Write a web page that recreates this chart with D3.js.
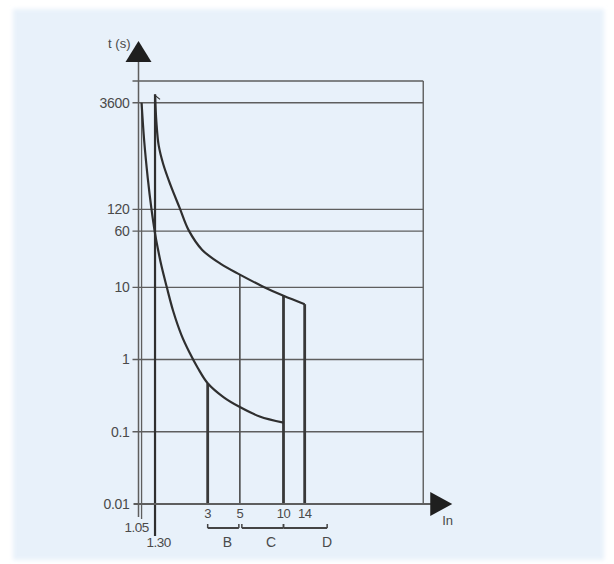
<!DOCTYPE html>
<html>
<head>
<meta charset="utf-8">
<script src="https://cdn.jsdelivr.net/npm/d3@7"></script>
<style>
  body { margin: 0; background: #fff; }
  svg { display: block; font-family: 'Liberation Sans', Arial, sans-serif; }
</style>
</head>
<body>
<div id="chart"></div>
<script>
// time ticks (s), log axis
var tTicks = [3600, 120, 60, 10, 1, 0.1, 0.01]
var tLabels = ['3600', '120', '60', '10', '1', '0.1', '0.01']

// multiples of In under the axis
var inTicks = [3, 5, 10, 14]
var inLabels = ['3', '5', '10', '14']
var inLowTicks = [1.05, 1.30]
var inLowLabels = ['1.05', '1.30']

// lower curve
var lowIn = [1.05, 1.094, 1.159, 1.227, 1.3, 1.357, 1.438, 1.568, 1.734, 1.975, 2.248, 2.559, 3, 3.873, 5, 6.85, 10]
var lowT = [3600, 1080, 324, 124, 56, 35, 20, 10, 4.7, 2.2, 1.25, 0.77, 0.47, 0.3, 0.22, 0.163, 0.134]

// upper curve
var upIn = [1.3, 1.328, 1.377, 1.48, 1.661, 1.919, 2.216, 2.751, 3.666, 5, 7.18, 10, 14]
var upT = [4700, 1970, 930, 510, 262, 127, 62, 33, 21.3, 15, 10.3, 7.65, 5.85]

// verticals dropped to the axis
var dropIn = [3, 5, 10, 14]
var dropT = [0.47, 15, 7.65, 5.85]

// tripping classes
var classNames = ['B', 'C', 'D']
var classFrom = [3, 5, 10]
var classTo = [5, 10, 20]
var classLabelAt = [4.1, 8.2, 20]

var inMax = 92    // right edge of the frame
var tMax = 7200   // top edge of the frame

var width = 614
var height = 564
var GRID = '#5e5e5e'
var INK = '#2f2f2f'
var TEXT = '#4a4a4a'

var svg = d3.select('#chart')
  .append('svg')
  .attr('width', width)
  .attr('height', height)

var x = d3.scaleLog().domain([1, 10]).range([138.5, 283.5])
var y = d3.scaleLog().domain([0.01, tMax]).range([504, 81])

var axisX = x(1)
var axisY = y(0.01)
var frameRight = x(inMax)
var frameTop = y(tMax)

drawBackground()
drawGrid()
drawCurves()
drawAxes()
drawClasses()

function drawBackground() {
  var defs = svg.append('defs')
  defs.append('filter')
    .attr('id', 'soft')
    .append('feGaussianBlur')
    .attr('stdDeviation', 2)

  svg.append('rect')
    .attr('x', 13)
    .attr('y', 9)
    .attr('width', 591)
    .attr('height', 551)
    .attr('fill', '#e8f1fa')
    .attr('filter', 'url(#soft)')
}

function drawGrid() {
  var g = svg.append('g')

  //horizontal lines, last tick is the axis itself
  g.selectAll('line.h')
    .data(tTicks.slice(0, -1).concat([tMax]))
    .enter()
    .append('line')
    .attr('class', 'h')
    .attr('x1', axisX - 6)
    .attr('x2', frameRight)
    .attr('y1', function(d) { return y(d) })
    .attr('y2', function(d) { return y(d) })
    .attr('stroke', GRID)
    .attr('stroke-width', 1.4)

  //right border
  g.append('line')
    .attr('x1', frameRight)
    .attr('x2', frameRight)
    .attr('y1', frameTop)
    .attr('y2', axisY)
    .attr('stroke', GRID)
    .attr('stroke-width', 1.4)

  g.selectAll('text.t')
    .data(tTicks)
    .enter()
    .append('text')
    .attr('class', 't')
    .attr('x', axisX - 9)
    .attr('y', function(d) { return y(d) })
    .attr('dy', '0.35em')
    .attr('text-anchor', 'end')
    .attr('font-size', 14)
    .attr('letter-spacing', -0.3)
    .attr('fill', TEXT)
    .text(function(d, i) { return tLabels[i] })
}

function drawCurves() {
  var g = svg.append('g')
  var line = d3.line()
    .x(function(d) { return x(d[0]) })
    .y(function(d) { return y(d[1]) })
    .curve(d3.curveCatmullRom.alpha(0.5))

  // 1.05 and 1.30 verticals run below the axis to their labels
  g.append('line')
    .attr('x1', x(1.05))
    .attr('x2', x(1.05))
    .attr('y1', y(lowT[0]))
    .attr('y2', axisY + 15)
    .attr('stroke', GRID)
    .attr('stroke-width', 1.3)

  g.append('line')
    .attr('x1', x(1.3))
    .attr('x2', x(1.3))
    .attr('y1', y(upT[0]))
    .attr('y2', axisY + 32)
    .attr('stroke', INK)
    .attr('stroke-width', 2.2)

  // small flag on top of the 1.30 line
  g.append('line')
    .attr('x1', x(1.3))
    .attr('x2', x(1.3) + 5)
    .attr('y1', y(upT[0]) + 1)
    .attr('y2', y(upT[0]) + 5)
    .attr('stroke', INK)
    .attr('stroke-width', 1.2)

  g.selectAll('line.drop')
    .data(dropIn)
    .enter()
    .append('line')
    .attr('class', 'drop')
    .attr('x1', function(d) { return x(d) })
    .attr('x2', function(d) { return x(d) })
    .attr('y1', function(d, i) { return y(dropT[i]) })
    .attr('y2', axisY)
    .attr('stroke', function(d) { return d === 5 ? '#555' : '#383838' })
    .attr('stroke-width', function(d) { return d === 5 ? 1.7 : 2.8 })

  g.append('path')
    .datum(d3.zip(lowIn, lowT))
    .attr('d', line)
    .attr('fill', 'none')
    .attr('stroke', INK)
    .attr('stroke-width', 2.2)

  g.append('path')
    .datum(d3.zip(upIn, upT))
    .attr('d', line)
    .attr('fill', 'none')
    .attr('stroke', INK)
    .attr('stroke-width', 2.2)
}

function drawAxes() {
  var g = svg.append('g')

  //y axis with arrow
  g.append('line')
    .attr('x1', axisX)
    .attr('x2', axisX)
    .attr('y1', axisY + 13)
    .attr('y2', frameTop - 20)
    .attr('stroke', GRID)
    .attr('stroke-width', 1.5)

  g.append('path')
    .attr('d', 'M' + axisX + ',' + (frameTop - 40) +
      'L' + (axisX + 13) + ',' + (frameTop - 19) +
      'L' + (axisX - 13) + ',' + (frameTop - 19) + 'Z')
    .attr('fill', '#1f1f1f')

  g.append('text')
    .attr('x', axisX - 8)
    .attr('y', frameTop - 33)
    .attr('text-anchor', 'end')
    .attr('font-size', 13)
    .attr('fill', TEXT)
    .text('t (s)')

  //x axis with arrow
  g.append('line')
    .attr('x1', axisX - 5)
    .attr('x2', frameRight + 8)
    .attr('y1', axisY)
    .attr('y2', axisY)
    .attr('stroke', GRID)
    .attr('stroke-width', 2)

  g.append('path')
    .attr('d', 'M' + (frameRight + 29) + ',' + axisY +
      'L' + (frameRight + 7) + ',' + (axisY - 12) +
      'L' + (frameRight + 7) + ',' + (axisY + 12) + 'Z')
    .attr('fill', '#1f1f1f')

  g.append('text')
    .attr('x', frameRight + 19)
    .attr('y', axisY + 21)
    .attr('font-size', 13)
    .attr('fill', TEXT)
    .text('In')

  g.selectAll('text.in')
    .data(inTicks)
    .enter()
    .append('text')
    .attr('class', 'in')
    .attr('x', function(d) { return x(d) })
    .attr('y', axisY + 14)
    .attr('text-anchor', 'middle')
    .attr('font-size', 13)
    .attr('letter-spacing', -0.5)
    .attr('fill', TEXT)
    .text(function(d, i) { return inLabels[i] })

  // 1.05 and 1.30 are staggered under the axis
  g.selectAll('text.low')
    .data(inLowTicks)
    .enter()
    .append('text')
    .attr('class', 'low')
    .attr('x', function(d, i) { return x(d) + (i ? 3.5 : -5) })
    .attr('y', function(d, i) { return axisY + (i ? 43 : 28) })
    .attr('text-anchor', 'middle')
    .attr('font-size', 13.5)
    .attr('letter-spacing', -0.5)
    .attr('fill', TEXT)
    .text(function(d, i) { return inLowLabels[i] })
}

function drawClasses() {
  var g = svg.append('g')
  var by = axisY + 24

  classNames.forEach(function(name, i) {
    var x1 = x(classFrom[i]) + (i === 1 ? 2 : 0)
    var x2 = x(classTo[i]) - (i === 0 ? 1 : 0)

    g.append('line')
      .attr('x1', x1)
      .attr('x2', x2)
      .attr('y1', by)
      .attr('y2', by)
      .attr('stroke', '#444')
      .attr('stroke-width', 2)

    g.append('line')
      .attr('x1', x1)
      .attr('x2', x1)
      .attr('y1', by - 4)
      .attr('y2', by)
      .attr('stroke', '#444')
      .attr('stroke-width', 1.5)

    g.append('line')
      .attr('x1', x2)
      .attr('x2', x2)
      .attr('y1', by - 4)
      .attr('y2', by)
      .attr('stroke', '#444')
      .attr('stroke-width', 1.5)

    g.append('text')
      .attr('x', x(classLabelAt[i]))
      .attr('y', by + 19)
      .attr('text-anchor', 'middle')
      .attr('font-size', 14)
      .attr('fill', TEXT)
      .text(name)
  })
}
</script>
</body>
</html>
